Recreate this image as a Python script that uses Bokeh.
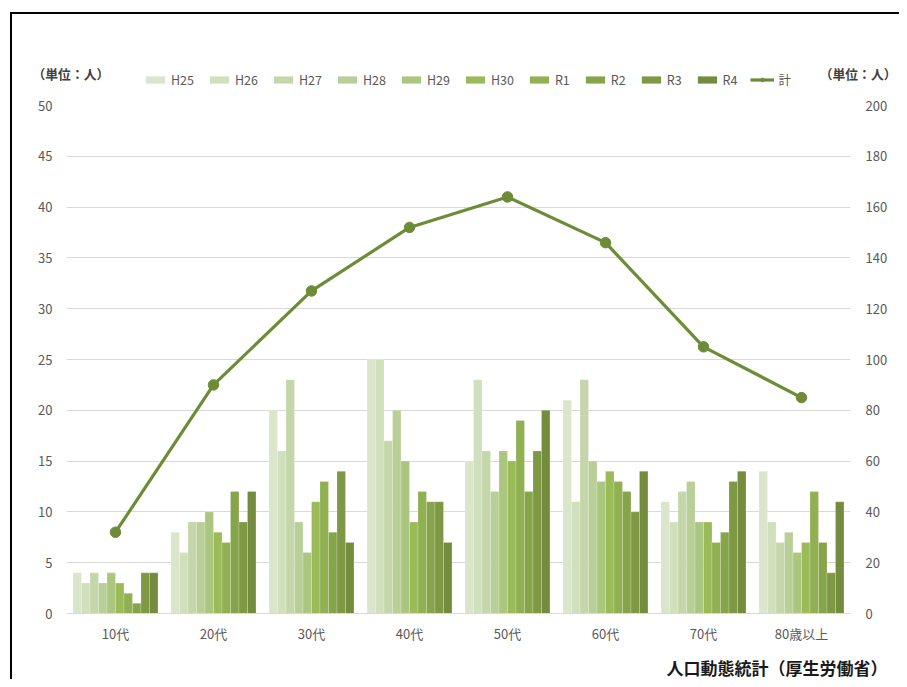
from bokeh.plotting import figure
from bokeh.layouts import column
from bokeh.models import (FactorRange, Range1d, LinearAxis, FixedTicker, Legend,
                          LegendItem, Label, ColumnDataSource)
from bokeh.transform import dodge
from bokeh.embed import file_html
from bokeh.resources import INLINE

categories = ["10代", "20代", "30代", "40代", "50代", "60代", "70代", "80歳以上"]
years = ["H25", "H26", "H27", "H28", "H29", "H30", "R1", "R2", "R3", "R4"]

H25 = [4, 8, 20, 25, 15, 21, 11, 14]
H26 = [3, 6, 16, 25, 23, 11, 9, 9]
H27 = [4, 9, 23, 17, 16, 23, 12, 7]
H28 = [3, 9, 9, 20, 12, 15, 13, 8]
H29 = [4, 10, 6, 15, 16, 13, 9, 6]
H30 = [3, 8, 11, 9, 15, 14, 9, 7]
R1 = [2, 7, 13, 12, 19, 13, 7, 12]
R2 = [1, 12, 8, 11, 12, 12, 8, 7]
R3 = [4, 9, 14, 11, 16, 10, 13, 4]
R4 = [4, 12, 7, 7, 20, 14, 14, 11]
total = [32, 90, 127, 152, 164, 146, 105, 85]

left_ticks = [0, 5, 10, 15, 20, 25, 30, 35, 40, 45, 50]
right_ticks = [0, 20, 40, 60, 80, 100, 120, 140, 160, 180, 200]

unit_label = "（単位：人）"
source_label = "人口動態統計（厚生労働省）"

colors = ["#dbe5cb", "#d0dfbc", "#c5d7aa", "#b9cf98", "#abc67f",
          "#9bbb59", "#90b051", "#86a44a", "#7e9844", "#748c3d"]
line_color = "#6e8b37"
FONT = "Noto Sans CJK JP"
TXT = "#595959"

W = 887
TOP_H, MAIN_H, BOT_H = 81, 553, 31

series = [H25, H26, H27, H28, H29, H30, R1, R2, R3, R4]
data = {"cat": categories, "total": total}
for name, vals in zip(years, series):
    data[name] = vals
src = ColumnDataSource(data)


def no_align(fig):
    if "frame_align" in fig.properties():
        fig.frame_align = False


# ---------------- main chart ----------------
p = figure(x_range=FactorRange(*categories, range_padding=0),
           y_range=Range1d(0, 50),
           width=W, height=MAIN_H, output_backend="svg", toolbar_location=None,
           min_border_left=54, min_border_right=49, min_border_top=10,
           min_border_bottom=35)
p.outline_line_color = None
p.extra_y_ranges = {"right": Range1d(0, 200)}
no_align(p)

bar_w = 0.0867
for j, name in enumerate(years):
    off = (j - 4.5) * bar_w
    p.vbar(x=dodge("cat", off, range=p.x_range), top=name, width=bar_w,
           source=src, fill_color=colors[j], line_color="#ffffff",
           line_alpha=0.35, line_width=0.6)

p.line(x="cat", y="total", source=src, y_range_name="right",
       line_color=line_color, line_width=3.2)
p.scatter(x="cat", y="total", source=src, y_range_name="right",
          size=10.5, fill_color=line_color, line_color=line_color)

p.yaxis.ticker = FixedTicker(ticks=left_ticks)
ra = LinearAxis(y_range_name="right", ticker=FixedTicker(ticks=right_ticks))
p.add_layout(ra, "right")

for ax in (p.yaxis[0], ra, p.xaxis[0]):
    ax.major_tick_line_color = None
    ax.minor_tick_line_color = None
    ax.major_tick_out = 0
    ax.major_tick_in = 0
    ax.major_label_text_font = FONT
    ax.major_label_text_font_size = "13px"
    ax.major_label_text_color = TXT
p.yaxis.axis_line_color = None
ra.axis_line_color = None
p.yaxis.major_label_standoff = 14
ra.major_label_standoff = 15
p.xaxis.axis_line_color = "#d9d9d9"
p.xaxis.major_label_standoff = 10

p.xgrid.grid_line_color = None
p.ygrid.grid_line_color = "#d9d9d9"
p.ygrid.grid_line_width = 1

# ---------------- header: legend and unit labels ----------------
top = figure(x_range=Range1d(0, W), y_range=Range1d(0, TOP_H),
             width=W, height=TOP_H, output_backend="svg", toolbar_location=None,
             x_axis_type=None, y_axis_type=None, min_border=0)
top.outline_line_color = None
no_align(top)
key_src = ColumnDataSource({"x": [-100.0], "y": [-100.0]})
key_renderers = []
for j, name in enumerate(years):
    key_renderers.append(top.vbar(x="x", top="y", width=1, source=key_src,
                                  fill_color=colors[j], line_color=None))
kl = top.line(x="x", y="y", source=key_src, line_color=line_color, line_width=3.2)
ks = top.scatter(x="x", y="y", source=key_src, size=8, fill_color=line_color,
                 line_color=line_color)

items = [LegendItem(label=name, renderers=[r]) for name, r in zip(years, key_renderers)]
items.append(LegendItem(label="計", renderers=[kl, ks]))
leg = Legend(items=items, orientation="horizontal", location=(131, 6),
             glyph_width=24, glyph_height=9, label_standoff=4, spacing=13,
             padding=0, margin=0, label_height=18, label_width=0,
             label_text_font=FONT, label_text_font_size="12.5px",
             label_text_color=TXT, background_fill_alpha=0,
             border_line_color=None)
top.add_layout(leg, "center")

top.add_layout(Label(x=20, y=22, text=unit_label, text_align="left",
                     text_baseline="middle", text_font=FONT,
                     text_font_size="12.8px", text_font_style="bold",
                     text_color="#404040"))
top.add_layout(Label(x=884, y=22, text=unit_label, text_align="right",
                     text_baseline="middle", text_font=FONT,
                     text_font_size="12.8px", text_font_style="bold",
                     text_color="#404040"))

# ---------------- footer: source ----------------
bot = figure(x_range=Range1d(0, W), y_range=Range1d(0, BOT_H),
             width=W, height=BOT_H, output_backend="svg", toolbar_location=None,
             x_axis_type=None, y_axis_type=None, min_border=0)
bot.outline_line_color = None
no_align(bot)
bot.add_layout(Label(x=875, y=12, text=source_label, text_align="right",
                     text_baseline="middle", text_font=FONT,
                     text_font_size="17px", text_font_style="bold",
                     text_color="#1a1a1a"))

layout = column(top, p, bot, spacing=0)
layout.styles = {"border-left": "2px solid #000", "border-top": "2px solid #000",
                 "margin-left": "10px", "margin-top": "12px"}

open("out.html", "w").write(file_html(layout, INLINE))
